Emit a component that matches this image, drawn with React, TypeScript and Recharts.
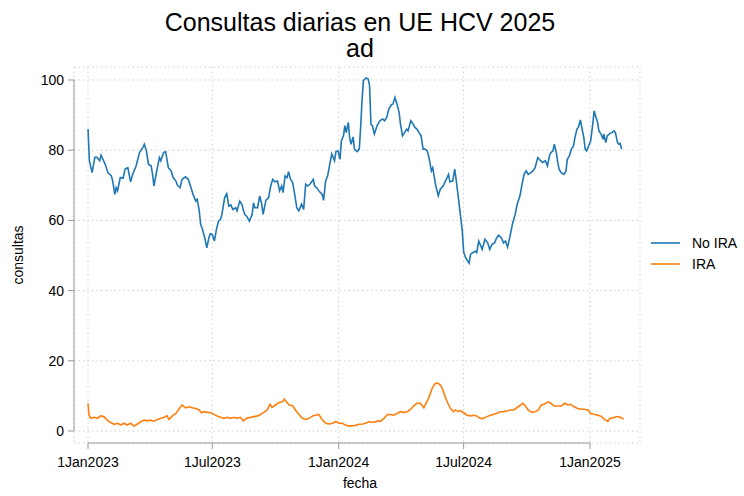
import { CartesianGrid, Line, LineChart, ReferenceLine, XAxis, YAxis } from "recharts"

const titulo = "Consultas diarias en UE HCV 2025"
const subtitulo = "ad"
const ejeX = "fecha"
const ejeY = "consultas"
const series = ["No IRA", "IRA"]
const colores = ["#1f77b4", "#ff7f0e"]

// x = días desde el 1 de enero de 2023
const xTicks = [0, 181, 365, 547, 731]
const xTickLabels = ["1Jan2023", "1Jul2023", "1Jan2024", "1Jul2024", "1Jan2025"]
const yTicks = [0, 20, 40, 60, 80, 100]

const noIraDias = [
  0, 2, 6, 10, 13, 17, 19, 25, 29, 34, 36, 39, 41, 43, 47, 51, 54, 58, 62, 65, 70, 75, 80, 82, 85, 88,
  92, 94, 96, 100, 104, 106, 110, 113, 117, 121, 124, 128, 130, 134, 137, 142, 146, 150, 153, 157, 159,
  162, 164, 166, 170, 173, 176, 178, 181, 184, 187, 190, 193, 195, 199, 202, 205, 208, 211, 215, 217,
  221, 224, 228, 231, 235, 239, 241, 243, 247, 250, 253, 255, 259, 263, 266, 269, 272, 276, 279, 282,
  284, 287, 290, 292, 295, 298, 301, 304, 307, 311, 314, 317, 320, 324, 328, 330, 333, 337, 341, 343,
  346, 349, 352, 355, 359, 361, 364, 367, 369, 372, 374, 376, 379, 381, 383, 386, 388, 392, 395, 397,
  399, 401, 405, 408, 410, 412, 414, 417, 421, 425, 429, 432, 435, 438, 442, 444, 447, 450, 453, 455,
  458, 461, 464, 466, 470, 472, 476, 479, 482, 485, 488, 491, 494, 497, 500, 502, 506, 510, 513, 517,
  520, 523, 525, 527, 531, 534, 536, 539, 542, 545, 547, 550, 555, 557, 560, 564, 566, 569, 572, 574,
  578, 582, 585, 588, 592, 595, 598, 602, 605, 608, 611, 614, 618, 622, 625, 629, 632, 635, 638, 641,
  645, 648, 651, 655, 659, 662, 666, 669, 672, 674, 677, 679, 682, 684, 686, 689, 693, 696, 698, 701,
  704, 707, 709, 712, 714, 717, 719, 722, 724, 726, 729, 732, 735, 737, 739, 742, 744, 747, 750, 751,
  754, 756, 760, 763, 766, 768, 771, 773, 775, 777,
]
const noIraValores = [
  86, 77, 73.6, 78, 78, 77, 78.6, 76, 73.6, 72.7, 71.2, 67.4, 69.3, 68.4, 72.2, 72, 74.6, 75, 71, 73.1,
  75.5, 79.3, 80.8, 81.7, 79.8, 76, 75.5, 73.1, 69.8, 74, 77.9, 77, 79.3, 79.6, 75, 74.1, 72.2, 71.2,
  70.1, 69.3, 71.7, 72.4, 71.7, 69.3, 67.4, 65.5, 66, 62.7, 58.9, 57.9, 55, 52.2, 55, 56.2, 56, 54.1,
  57.4, 59.8, 60.3, 61.7, 66.5, 67.6, 64.1, 64.4, 63.1, 63.6, 62.7, 65.5, 64.6, 61.7, 61.2, 59.8, 61.7,
  65, 63.6, 63.6, 67, 64.6, 61.7, 65.7, 66.5, 69.8, 71.7, 71, 71.2, 68.4, 69.8, 67.9, 72.7, 72.2, 73.9,
  71.7, 70.8, 67.4, 63.6, 62.7, 64.6, 63.1, 70.3, 69.8, 70.5, 71.7, 69.8, 69.3, 68.2, 67.4, 65.7, 71.2,
  72.7, 76, 78.9, 77, 79.6, 79.8, 77.4, 82.7, 84.1, 87, 85, 87.9, 83.6, 81.7, 83.8, 80.3, 79.6, 80.3,
  86.5, 94.1, 99.8, 100.6, 100.3, 98.4, 87.4, 87, 84.6, 87, 88.4, 88.9, 88.4, 89.3, 91.7, 93, 93.1, 95,
  93.1, 90.8, 87.4, 84.1, 85, 86, 85.5, 88.4, 87.9, 86.5, 86, 85, 84.1, 80.3, 80.3, 79.8, 77.4, 74.1,
  75, 70.3, 67, 68.9, 69.8, 71, 72.2, 73.1, 71, 71.2, 74.6, 71.7, 67, 62, 57, 51, 49.3, 47.8, 50.3,
  50.8, 51.2, 50.8, 54.1, 52.7, 51.7, 54.6, 53.6, 51.7, 53.1, 53.6, 55, 55.8, 55, 53.6, 54.1, 52.4, 55,
  58.9, 61.7, 64.6, 67, 70.3, 73.1, 74.1, 73.1, 73.6, 74.1, 75, 77.9, 77, 76.5, 77, 75.5, 78.4, 79.3,
  79.8, 81.7, 79.3, 76.5, 74.6, 73.6, 73.1, 74.1, 77.4, 78.4, 80.3, 81.2, 83.6, 86, 86.5, 88.6, 86.5,
  83.6, 80.3, 79.8, 81.2, 82.7, 87.4, 91.2, 89.8, 87.9, 85.5, 84.6, 83.1, 84.6, 82.2, 84.1, 84.8, 85,
  85.5, 85, 82.2, 81.7, 81.9, 80.3,
]

const iraDias = [
  0, 1.5, 4, 9, 14, 18, 23, 28, 33, 38, 43, 48, 52, 57, 62, 67, 72, 77, 82, 86, 91, 96, 101, 106, 111,
  115, 118, 123, 128, 133, 137, 142, 147, 152, 157, 162, 165, 169, 174, 179, 183, 188, 193, 198, 203,
  208, 213, 217, 222, 226, 231, 237, 242, 247, 251, 256, 261, 265, 268, 273, 278, 283, 286, 289, 293,
  298, 302, 307, 312, 317, 322, 327, 331, 336, 341, 346, 351, 356, 361, 365, 370, 375, 380, 385, 390,
  395, 400, 404, 409, 416, 421, 426, 431, 436, 440, 445, 450, 455, 460, 465, 470, 474, 479, 484, 489,
  494, 497, 501, 505, 509, 513, 516, 520, 524, 528, 532, 535, 539, 542, 547, 552, 557, 562, 566, 571,
  576, 581, 586, 591, 595, 600, 605, 610, 615, 620, 625, 630, 633, 637, 641, 646, 651, 656, 660, 665,
  670, 674, 679, 684, 689, 694, 699, 703, 708, 713, 718, 723, 728, 732, 738, 743, 748, 752, 757, 760,
  765, 770, 775, 780,
]
const iraValores = [
  7.9, 4.5, 3.6, 3.9, 3.6, 4.3, 4.1, 3.1, 2.4, 1.9, 2.2, 1.7, 2.2, 1.7, 2.2, 1.4, 2, 2.7, 3.1, 2.9, 3.1,
  2.8, 3.3, 3.6, 3.9, 4.3, 3.3, 4.3, 5, 6.4, 7.4, 6.6, 6.9, 6.6, 6.4, 6, 5.2, 5.5, 5.3, 5.2, 4.8, 4.3,
  3.9, 3.6, 3.9, 3.6, 3.9, 3.6, 3.9, 2.9, 3.6, 3.9, 4.1, 4.3, 4.7, 5.3, 6, 7.6, 6.7, 7.4, 8.1, 8.3, 9.1,
  8.3, 7.4, 7.2, 6, 4.8, 3.6, 3.3, 3.6, 4.3, 4.5, 4.7, 3.3, 2.2, 2, 2.2, 2.7, 2.2, 2.2, 1.7, 1.4, 1.5,
  1.6, 1.9, 2, 2.2, 2.6, 2.5, 2.8, 2.8, 3.6, 4.7, 4.7, 4.5, 5, 5.5, 5.3, 5.5, 6.2, 7.1, 7.9, 7.9, 6.6,
  8.6, 9.8, 12.1, 13.4, 13.7, 13.1, 12.1, 9.8, 7.9, 6.4, 5.5, 6, 5.5, 5.8, 5.2, 4.5, 4.3, 4.5, 4.3, 3.6,
  3.6, 4.1, 4.5, 4.8, 5, 5.5, 5.5, 5.7, 6, 6, 6.7, 7.4, 7.9, 7.1, 6, 5.3, 5.5, 6, 7.4, 7.7, 8.3, 7.9,
  7.1, 7.1, 7.1, 7.9, 7.4, 7.6, 6.9, 6.4, 6.2, 6.2, 6, 5, 4.7, 4.5, 4.1, 3.3, 2.7, 3.6, 3.8, 4.1, 3.9,
  3.4,
]

const noIraData = noIraDias.map((dia, i) => ({ dia, valor: noIraValores[i] }))
const iraData = iraDias.map((dia, i) => ({ dia, valor: iraValores[i] }))

const X_DOMAIN: [number, number] = [-20.4, 803.8]
const Y_DOMAIN: [number, number] = [-3.42, 103.7]
const AXIS = "#999999"
const FONT = "'Liberation Sans', Arial, sans-serif"

export default function App() {
  return (
    <div style={{ position: "absolute", left: 0, top: 0, width: 744, height: 496, background: "#fff", fontFamily: FONT }}>
      <LineChart width={744} height={496} margin={{ top: 67, right: 104, bottom: 13, left: 24 }}>
        <CartesianGrid stroke="#cfcfcf" strokeDasharray="1.5 3" />
        <XAxis
          type="number"
          dataKey="dia"
          domain={X_DOMAIN}
          allowDataOverflow
          ticks={xTicks}
          interval={0}
          tickFormatter={(d: number) => xTickLabels[xTicks.indexOf(d)]}
          axisLine={false}
          tickLine={{ stroke: AXIS }}
          tickSize={6}
          tickMargin={8}
          height={40}
          tick={{ fill: "#000", fontSize: 14 }}
        />
        <YAxis
          type="number"
          domain={Y_DOMAIN}
          allowDataOverflow
          ticks={yTicks}
          interval={0}
          axisLine={false}
          tickLine={{ stroke: AXIS }}
          tickSize={6}
          tickMargin={4}
          width={50}
          tick={{ fill: "#000", fontSize: 14 }}
        />
        <ReferenceLine segment={[{ x: xTicks[0], y: Y_DOMAIN[0] }, { x: xTicks[xTicks.length - 1], y: Y_DOMAIN[0] }]} stroke={AXIS} ifOverflow="visible" />
        <ReferenceLine segment={[{ x: X_DOMAIN[0], y: yTicks[0] }, { x: X_DOMAIN[0], y: yTicks[yTicks.length - 1] }]} stroke={AXIS} ifOverflow="visible" />
        <Line data={noIraData} dataKey="valor" name={series[0]} stroke={colores[0]} strokeWidth={1.6} dot={false} isAnimationActive={false} />
        <Line data={iraData} dataKey="valor" name={series[1]} stroke={colores[1]} strokeWidth={1.6} dot={false} isAnimationActive={false} />
      </LineChart>
      <svg width={744} height={496} style={{ position: "absolute", left: 0, top: 0, pointerEvents: "none" }}>
        <text x={360} y={31} textAnchor="middle" fontSize={25} fill="#000">{titulo}</text>
        <text x={360} y={57} textAnchor="middle" fontSize={25} fill="#000">{subtitulo}</text>
        <text x={360} y={488} textAnchor="middle" fontSize={14} fill="#000">{ejeX}</text>
        <text x={23} y={255} textAnchor="middle" fontSize={14} fill="#000" transform="rotate(-90 23 255)">{ejeY}</text>
        {series.map((s, i) => (
          <g key={s}>
            <line x1={651} x2={680} y1={243 + i * 21} y2={243 + i * 21} stroke={colores[i]} strokeWidth={1.6} />
            <text x={692} y={248 + i * 21} fontSize={14} fill="#000">{s}</text>
          </g>
        ))}
      </svg>
    </div>
  )
}
